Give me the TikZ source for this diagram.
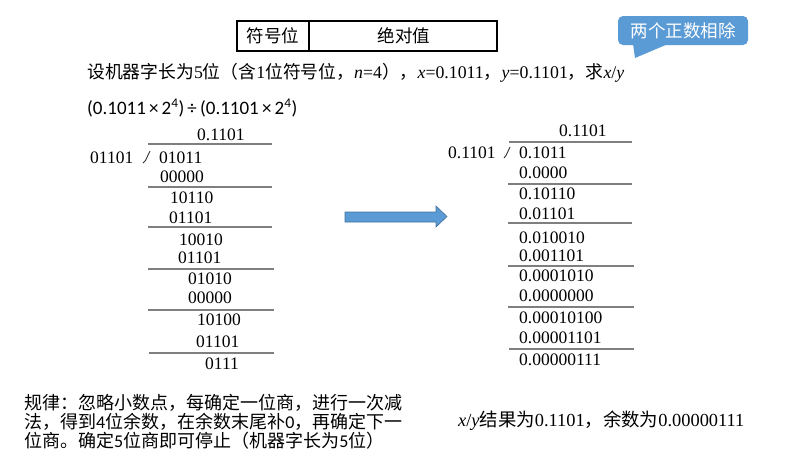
\documentclass[tikz,border=0pt]{standalone}
\usepackage{fontspec}
\setmainfont{Liberation Serif}
\newfontfamily\zhfont{Noto Sans CJK SC}
\newfontfamily\calfont{Carlito}
\definecolor{callblue}{HTML}{5B9BD5}
\definecolor{arrowedge}{HTML}{41719C}
\definecolor{rulegray}{HTML}{7F7F7F}
\newcommand\zh[1]{{\zhfont #1}}
\begin{document}
\begin{tikzpicture}[x=1pt,y=-1pt,
  num/.style={anchor=base west,inner sep=0pt,font=\fontsize{17.5}{20}\selectfont},
  txt/.style={anchor=base west,inner sep=0pt,font=\fontsize{17.8}{20}\selectfont},
  divline/.style={draw=rulegray,line width=1.4pt},
  hook/.style={draw=black!80,line width=0.9pt}]
\useasboundingbox (0,0) rectangle (795,459);
% table
\draw[line width=1.1pt] (237,21) rectangle (497,51);
\draw[line width=1.1pt] (309,21) -- (309,51);
\node[font=\fontsize{17.5}{20}\selectfont\zhfont] (sign) at (273,36) {符号位};
\node[font=\fontsize{17.5}{20}\selectfont\zhfont] (absv) at (404,36) {绝对值};
% callout
\fill[callblue,rounded corners=5pt] (618,16) rectangle (748,45);
\fill[callblue] (633,44) -- (668,44) -- (635,58) -- cycle;
\node[font=\fontsize{17.5}{20}\selectfont\zhfont,text=white] (call) at (683,30.5) {两个正数相除};
% condition line
\node[txt] (cond) at (87,78) {\zh{设机器字长为}5\zh{位（含}1\zh{位符号位，}\textit{n}=4\zh{），}\textit{x}=0.1011\zh{，}\textit{y}=0.1101\zh{，求}\textit{x}/\textit{y}};
\node[anchor=base west,inner sep=0pt,font=\fontsize{19}{20}\selectfont\calfont] (expr) at (87,114) {(0.1011\,×\,2\textsuperscript{4})\,÷\,(0.1101\,×\,2\textsuperscript{4})};
% left division
\node[num] (lq) at (197,140) {0.1101};
\draw[divline] (148,144) -- (272,144);
\node[num] (ld) at (90,163) {01101};
\draw[hook] (143,163) -- (145.5,160.5) -- (150,151);
\node[num] (la1) at (159,163) {01011};
\node[num] (la2) at (160,182) {00000};
\draw[divline] (148,187) -- (272,187);
\node[num] (lb1) at (170,203) {10110};
\node[num] (lb2) at (169,223) {01101};
\draw[divline] (148,227) -- (272,227);
\node[num] (lc1) at (179,245) {10010};
\node[num] (lc2) at (178,263) {01101};
\draw[divline] (148,269) -- (274,269);
\node[num] (ld1) at (188,284) {01010};
\node[num] (ld2) at (188,303) {00000};
\draw[divline] (148,310) -- (274,310);
\node[num] (le1) at (197,325) {10100};
\node[num] (le2) at (196,347) {01101};
\draw[divline] (149,353) -- (274,353);
\node[num] (lf) at (205,369) {0111};
% arrow
\filldraw[fill=callblue,draw=arrowedge,line width=0.6pt] (345,212) -- (436,212) -- (436,206) -- (447,216.5) -- (436,227) -- (436,222) -- (345,222) -- cycle;
% right division
\node[num] (rq) at (559,136) {0.1101};
\draw[divline] (509,142) -- (632,142);
\node[num] (rd) at (448,158) {0.1101};
\draw[hook] (504,158) -- (506,155.5) -- (510,147);
\node[num] (ra1) at (519,158) {0.1011};
\node[num] (ra2) at (519,178) {0.0000};
\draw[divline] (508,184) -- (632,184);
\node[num] (rb1) at (519,199) {0.10110};
\node[num] (rb2) at (519,219) {0.01101};
\draw[divline] (508,223) -- (632,223);
\node[num] (rc1) at (519,243) {0.010010};
\node[num] (rc2) at (519,261) {0.001101};
\draw[divline] (508,266) -- (634,266);
\node[num] (rd1) at (519,281) {0.0001010};
\node[num] (rd2) at (519,301) {0.0000000};
\draw[divline] (508,307) -- (634,307);
\node[num] (re1) at (519,323) {0.00010100};
\node[num] (re2) at (519,343) {0.00001101};
\draw[divline] (509,349) -- (634,349);
\node[num] (rf) at (519,365) {0.00000111};
% bottom texts
\node[anchor=base west,inner sep=0pt,align=left,font=\fontsize{18}{19}\selectfont\zhfont] (rulebox) at (24,447)
 {规律：忽略小数点，每确定一位商，进行一次减\\法，得到{\calfont 4}位余数，在余数末尾补{\calfont 0}，再确定下一\\位商。确定{\calfont 5}位商即可停止（机器字长为{\calfont 5}位）};
\node[anchor=base west,inner sep=0pt,font=\fontsize{18.4}{20}\selectfont] (result) at (458,426) {\textit{x}/\textit{y}\zh{结果为}0.1101\zh{，余数为}0.00000111};
\end{tikzpicture}
\end{document}
